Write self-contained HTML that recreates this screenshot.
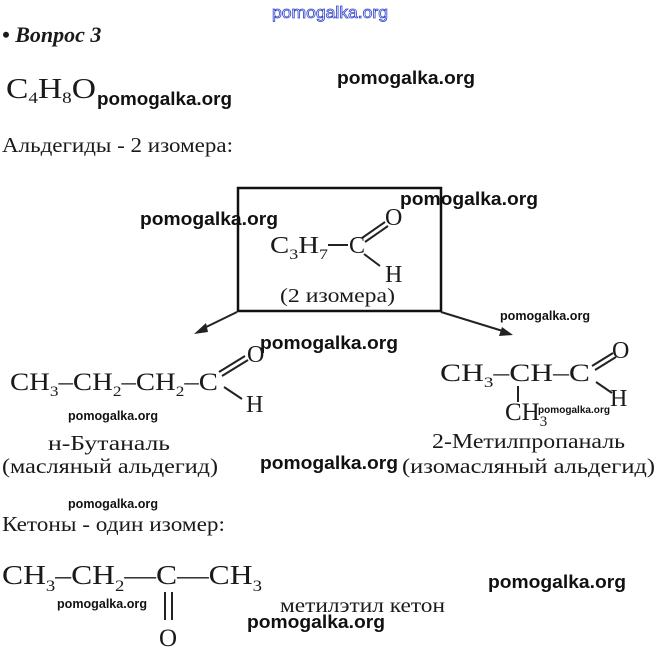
<!DOCTYPE html>
<html><head><meta charset="utf-8"><style>
html,body{margin:0;padding:0;background:#fff;}
svg{display:block}
.s{font-family:"Liberation Serif",serif;fill:#1a1a1a}
.w{font-family:"Liberation Sans",sans-serif;font-weight:bold;fill:#111}
</style></head><body>
<svg width="659" height="662" viewBox="0 0 659 662" xmlns="http://www.w3.org/2000/svg">
<text x="272" y="18" font-family="Liberation Sans,sans-serif" font-size="17" fill="#fff" stroke="#3344cc" stroke-width="0.8" textLength="116" lengthAdjust="spacingAndGlyphs">pomogalka.org</text>
<text class="s" x="2" y="42" font-size="22" font-weight="bold" font-style="italic" fill="#000">• Вопрос 3</text>
<text class="s" x="6" y="98" font-size="28" fill="#555" textLength="90" lengthAdjust="spacingAndGlyphs">C<tspan font-size="16" dy="5">4</tspan><tspan dy="-5">H</tspan><tspan font-size="16" dy="5">8</tspan><tspan dy="-5">O</tspan></text>
<text class="w" x="97" y="105" font-size="18" textLength="135" lengthAdjust="spacingAndGlyphs">pomogalka.org</text>
<text class="w" x="337" y="84" font-size="18" textLength="138" lengthAdjust="spacingAndGlyphs">pomogalka.org</text>
<text class="s" x="2" y="152" font-size="21" textLength="231" lengthAdjust="spacingAndGlyphs">Альдегиды - 2 изомера:</text>

<rect x="238" y="188" width="203" height="123" fill="none" stroke="#111" stroke-width="2.5"/>
<text class="s" x="270" y="253" font-size="24" textLength="58" lengthAdjust="spacingAndGlyphs">C<tspan font-size="15" dy="6">3</tspan><tspan dy="-6">H</tspan><tspan font-size="15" dy="6">7</tspan></text>
<line x1="328" y1="245" x2="348" y2="245" stroke="#222" stroke-width="2"/>
<text class="s" x="349" y="253" font-size="24">C</text>
<line x1="362" y1="238" x2="385" y2="222" stroke="#222" stroke-width="2"/>
<line x1="365" y1="242" x2="388" y2="226" stroke="#222" stroke-width="2"/>
<line x1="364" y1="254" x2="380" y2="266" stroke="#222" stroke-width="2"/>
<text class="s" x="385" y="225" font-size="24">O</text>
<text class="s" x="385" y="282" font-size="24">H</text>
<text class="s" x="280" y="302" font-size="20" textLength="115" lengthAdjust="spacingAndGlyphs">(2 изомера)</text>
<text class="w" x="140" y="225" font-size="18" textLength="138" lengthAdjust="spacingAndGlyphs">pomogalka.org</text>
<text class="w" x="400" y="205" font-size="18" textLength="138" lengthAdjust="spacingAndGlyphs">pomogalka.org</text>

<line x1="237" y1="312" x2="200" y2="330" stroke="#222" stroke-width="2"/>
<polygon points="194,334 206,323 208,332" fill="#222"/>
<line x1="441" y1="312" x2="506" y2="332" stroke="#222" stroke-width="2"/>
<polygon points="513,335 499,336 502,327" fill="#222"/>
<text class="w" x="500" y="320" font-size="12.5" font-weight="normal" textLength="90" lengthAdjust="spacingAndGlyphs">pomogalka.org</text>
<text class="w" x="260" y="349" font-size="18" textLength="138" lengthAdjust="spacingAndGlyphs">pomogalka.org</text>

<text class="s" x="10" y="390" font-size="25" textLength="208" lengthAdjust="spacingAndGlyphs">CH<tspan font-size="15" dy="6">3</tspan><tspan dy="-6">–CH</tspan><tspan font-size="15" dy="6">2</tspan><tspan dy="-6">–CH</tspan><tspan font-size="15" dy="6">2</tspan><tspan dy="-6">–C</tspan></text>
<line x1="219" y1="372" x2="245" y2="356" stroke="#222" stroke-width="2"/>
<line x1="222" y1="376" x2="248" y2="360" stroke="#222" stroke-width="2"/>
<line x1="224" y1="387" x2="242" y2="399" stroke="#222" stroke-width="2"/>
<text class="s" x="247" y="362" font-size="24">O</text>
<text class="s" x="246" y="412" font-size="24">H</text>
<text class="w" x="68" y="420" font-size="13" font-weight="normal" textLength="90" lengthAdjust="spacingAndGlyphs">pomogalka.org</text>

<text class="s" x="440" y="381" font-size="25" textLength="150" lengthAdjust="spacingAndGlyphs">CH<tspan font-size="15" dy="6">3</tspan><tspan dy="-6">–CH–C</tspan></text>
<line x1="592" y1="366" x2="613" y2="353" stroke="#222" stroke-width="2"/>
<line x1="595" y1="370" x2="616" y2="357" stroke="#222" stroke-width="2"/>
<line x1="596" y1="382" x2="612" y2="393" stroke="#222" stroke-width="2"/>
<text class="s" x="612" y="358" font-size="24">O</text>
<text class="s" x="610" y="406" font-size="24">H</text>
<line x1="518" y1="386" x2="518" y2="402" stroke="#222" stroke-width="2"/>
<text class="s" x="505" y="420" font-size="25">CH<tspan font-size="15" dy="6">3</tspan></text>
<text class="w" x="538" y="413" font-size="10" font-weight="normal" textLength="72" lengthAdjust="spacingAndGlyphs">pomogalka.org</text>

<text class="s" x="48" y="450" font-size="21" textLength="122" lengthAdjust="spacingAndGlyphs">н-Бутаналь</text>
<text class="s" x="2" y="473" font-size="21" textLength="216" lengthAdjust="spacingAndGlyphs">(масляный альдегид)</text>
<text class="s" x="432" y="448" font-size="21" textLength="193" lengthAdjust="spacingAndGlyphs">2-Метилпропаналь</text>
<text class="s" x="402" y="473" font-size="21" textLength="253" lengthAdjust="spacingAndGlyphs">(изомасляный альдегид)</text>
<text class="w" x="260" y="469" font-size="18" textLength="138" lengthAdjust="spacingAndGlyphs">pomogalka.org</text>
<text class="w" x="68" y="508" font-size="13" font-weight="normal" textLength="90" lengthAdjust="spacingAndGlyphs">pomogalka.org</text>

<text class="s" x="2" y="531" font-size="21" textLength="223" lengthAdjust="spacingAndGlyphs">Кетоны - один изомер:</text>
<text class="s" x="2" y="584" font-size="27" textLength="260" lengthAdjust="spacingAndGlyphs">CH<tspan font-size="16" dy="7">3</tspan><tspan dy="-7">–CH</tspan><tspan font-size="16" dy="7">2</tspan><tspan dy="-7">—C—CH</tspan><tspan font-size="16" dy="7">3</tspan></text>
<line x1="165" y1="592" x2="165" y2="620" stroke="#222" stroke-width="2"/>
<line x1="172" y1="592" x2="172" y2="620" stroke="#222" stroke-width="2"/>
<text class="s" x="159" y="646" font-size="25">O</text>
<text class="s" x="280" y="612" font-size="20" textLength="165" lengthAdjust="spacingAndGlyphs">метилэтил кетон</text>
<text class="w" x="488" y="588" font-size="18" textLength="138" lengthAdjust="spacingAndGlyphs">pomogalka.org</text>
<text class="w" x="57" y="608" font-size="13" font-weight="normal" textLength="90" lengthAdjust="spacingAndGlyphs">pomogalka.org</text>
<text class="w" x="247" y="628" font-size="18" textLength="138" lengthAdjust="spacingAndGlyphs">pomogalka.org</text>
</svg>
</body></html>
